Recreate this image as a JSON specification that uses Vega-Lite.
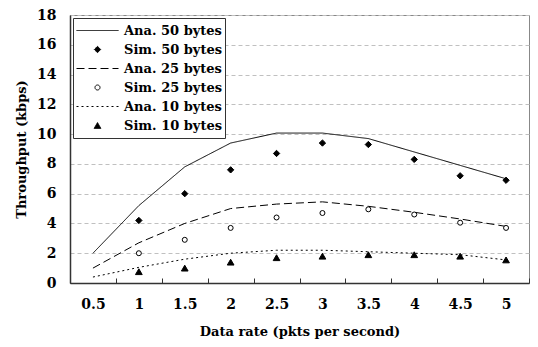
{
  "$schema": "https://vega.github.io/schema/vega-lite/v6.json",
  "width": 459,
  "height": 268,
  "autosize": {"type": "none"},
  "padding": {"left": 70, "top": 15, "right": 9, "bottom": 64},
  "background": "white",
  "config": {
    "view": {"stroke": "#888888", "strokeWidth": 1},
    "font": "DejaVu Serif",
    "axis": {
      "labelFont": "DejaVu Serif",
      "titleFont": "DejaVu Serif",
      "labelFontWeight": "bold",
      "titleFontWeight": "bold",
      "labelColor": "black",
      "titleColor": "black",
      "domainColor": "#333333",
      "domainWidth": 1.5
    },
    "legend": {
      "labelFont": "DejaVu Serif",
      "labelFontWeight": "bold",
      "labelFontSize": 13,
      "labelColor": "black"
    }
  },
  "data": {
    "values": [
      {"x": "0.5", "y": 2.0, "s": "Ana. 50 bytes"},
      {"x": "1", "y": 5.2, "s": "Ana. 50 bytes"},
      {"x": "1.5", "y": 7.8, "s": "Ana. 50 bytes"},
      {"x": "2", "y": 9.4, "s": "Ana. 50 bytes"},
      {"x": "2.5", "y": 10.07, "s": "Ana. 50 bytes"},
      {"x": "3", "y": 10.07, "s": "Ana. 50 bytes"},
      {"x": "3.5", "y": 9.7, "s": "Ana. 50 bytes"},
      {"x": "4", "y": 8.8, "s": "Ana. 50 bytes"},
      {"x": "4.5", "y": 7.9, "s": "Ana. 50 bytes"},
      {"x": "5", "y": 7.0, "s": "Ana. 50 bytes"},
      {"x": "1", "y": 4.2, "s": "Sim. 50 bytes"},
      {"x": "1.5", "y": 6.0, "s": "Sim. 50 bytes"},
      {"x": "2", "y": 7.6, "s": "Sim. 50 bytes"},
      {"x": "2.5", "y": 8.7, "s": "Sim. 50 bytes"},
      {"x": "3", "y": 9.4, "s": "Sim. 50 bytes"},
      {"x": "3.5", "y": 9.3, "s": "Sim. 50 bytes"},
      {"x": "4", "y": 8.3, "s": "Sim. 50 bytes"},
      {"x": "4.5", "y": 7.2, "s": "Sim. 50 bytes"},
      {"x": "5", "y": 6.9, "s": "Sim. 50 bytes"},
      {"x": "0.5", "y": 1.0, "s": "Ana. 25 bytes"},
      {"x": "1", "y": 2.7, "s": "Ana. 25 bytes"},
      {"x": "1.5", "y": 4.0, "s": "Ana. 25 bytes"},
      {"x": "2", "y": 5.0, "s": "Ana. 25 bytes"},
      {"x": "2.5", "y": 5.3, "s": "Ana. 25 bytes"},
      {"x": "3", "y": 5.45, "s": "Ana. 25 bytes"},
      {"x": "3.5", "y": 5.15, "s": "Ana. 25 bytes"},
      {"x": "4", "y": 4.75, "s": "Ana. 25 bytes"},
      {"x": "4.5", "y": 4.3, "s": "Ana. 25 bytes"},
      {"x": "5", "y": 3.8, "s": "Ana. 25 bytes"},
      {"x": "1", "y": 2.0, "s": "Sim. 25 bytes"},
      {"x": "1.5", "y": 2.9, "s": "Sim. 25 bytes"},
      {"x": "2", "y": 3.7, "s": "Sim. 25 bytes"},
      {"x": "2.5", "y": 4.4, "s": "Sim. 25 bytes"},
      {"x": "3", "y": 4.7, "s": "Sim. 25 bytes"},
      {"x": "3.5", "y": 4.95, "s": "Sim. 25 bytes"},
      {"x": "4", "y": 4.6, "s": "Sim. 25 bytes"},
      {"x": "4.5", "y": 4.05, "s": "Sim. 25 bytes"},
      {"x": "5", "y": 3.7, "s": "Sim. 25 bytes"},
      {"x": "0.5", "y": 0.4, "s": "Ana. 10 bytes"},
      {"x": "1", "y": 1.05, "s": "Ana. 10 bytes"},
      {"x": "1.5", "y": 1.6, "s": "Ana. 10 bytes"},
      {"x": "2", "y": 2.0, "s": "Ana. 10 bytes"},
      {"x": "2.5", "y": 2.2, "s": "Ana. 10 bytes"},
      {"x": "3", "y": 2.2, "s": "Ana. 10 bytes"},
      {"x": "3.5", "y": 2.1, "s": "Ana. 10 bytes"},
      {"x": "4", "y": 2.0, "s": "Ana. 10 bytes"},
      {"x": "4.5", "y": 1.9, "s": "Ana. 10 bytes"},
      {"x": "5", "y": 1.55, "s": "Ana. 10 bytes"},
      {"x": "1", "y": 0.76, "s": "Sim. 10 bytes"},
      {"x": "1.5", "y": 1.0, "s": "Sim. 10 bytes"},
      {"x": "2", "y": 1.4, "s": "Sim. 10 bytes"},
      {"x": "2.5", "y": 1.7, "s": "Sim. 10 bytes"},
      {"x": "3", "y": 1.8, "s": "Sim. 10 bytes"},
      {"x": "3.5", "y": 1.9, "s": "Sim. 10 bytes"},
      {"x": "4", "y": 1.9, "s": "Sim. 10 bytes"},
      {"x": "4.5", "y": 1.8, "s": "Sim. 10 bytes"},
      {"x": "5", "y": 1.55, "s": "Sim. 10 bytes"}
    ]
  },
  "encoding": {
    "x": {
      "field": "x",
      "type": "nominal",
      "sort": ["0.5", "1", "1.5", "2", "2.5", "3", "3.5", "4", "4.5", "5"],
      "scale": {"type": "band", "paddingInner": 0, "paddingOuter": 0},
      "axis": {
        "title": "Data rate (pkts per second)",
        "labelAngle": 0,
        "labelFontSize": 14,
        "titleFontSize": 13,
        "tickBand": "extent",
        "tickSize": -5,
        "tickColor": "#333333",
        "labelPadding": 19,
        "titlePadding": 14,
        "grid": false
      }
    },
    "y": {
      "field": "y",
      "type": "quantitative",
      "scale": {"domain": [0, 18], "nice": false},
      "axis": {
        "title": "Throughput (kbps)",
        "values": [0, 2, 4, 6, 8, 10, 12, 14, 16, 18],
        "labelFontSize": 14,
        "titleFontSize": 13,
        "ticks": false,
        "labelPadding": 14,
        "titlePadding": 8,
        "grid": true,
        "gridColor": "#c0c0c0",
        "gridDash": [4, 3],
        "gridWidth": 1
      }
    }
  },
  "layer": [
    {
      "transform": [{"filter": "indexof(datum.s, 'Ana') == 0"}],
      "mark": {"type": "line", "color": "black", "strokeWidth": 1},
      "encoding": {
        "strokeDash": {
          "field": "s",
          "type": "nominal",
          "title": null,
          "scale": {
            "domain": ["Ana. 50 bytes", "Sim. 50 bytes", "Ana. 25 bytes", "Sim. 25 bytes", "Ana. 10 bytes", "Sim. 10 bytes"],
            "range": [[1, 0], [1, 0], [8, 4], [1, 0], [2, 3], [1, 0]]
          },
          "legend": {
            "orient": "top-left",
            "offset": 3,
            "padding": 3,
            "fillColor": "white",
            "strokeColor": "#333333",
            "clipHeight": 19,
            "rowPadding": 0,
            "labelOffset": 5,
            "symbolStrokeColor": "black",
            "symbolStrokeWidth": 1
          }
        }
      }
    },
    {
      "transform": [{"filter": "indexof(datum.s, 'Sim') == 0"}],
      "mark": {"type": "point", "stroke": "black", "strokeWidth": 1, "opacity": 1},
      "encoding": {
        "shape": {
          "field": "s",
          "type": "nominal",
          "title": null,
          "scale": {
            "domain": ["Ana. 50 bytes", "Sim. 50 bytes", "Ana. 25 bytes", "Sim. 25 bytes", "Ana. 10 bytes", "Sim. 10 bytes"],
            "range": ["stroke", "diamond", "stroke", "circle", "stroke", "triangle-up"]
          }
        },
        "fill": {
          "field": "s",
          "type": "nominal",
          "title": null,
          "scale": {
            "domain": ["Ana. 50 bytes", "Sim. 50 bytes", "Ana. 25 bytes", "Sim. 25 bytes", "Ana. 10 bytes", "Sim. 10 bytes"],
            "range": ["black", "black", "black", "white", "black", "black"]
          }
        },
        "size": {
          "field": "s",
          "type": "nominal",
          "title": null,
          "scale": {
            "type": "ordinal",
            "domain": ["Ana. 50 bytes", "Sim. 50 bytes", "Ana. 25 bytes", "Sim. 25 bytes", "Ana. 10 bytes", "Sim. 10 bytes"],
            "range": [1764, 40, 1764, 25, 1764, 45]
          }
        }
      }
    }
  ]
}
